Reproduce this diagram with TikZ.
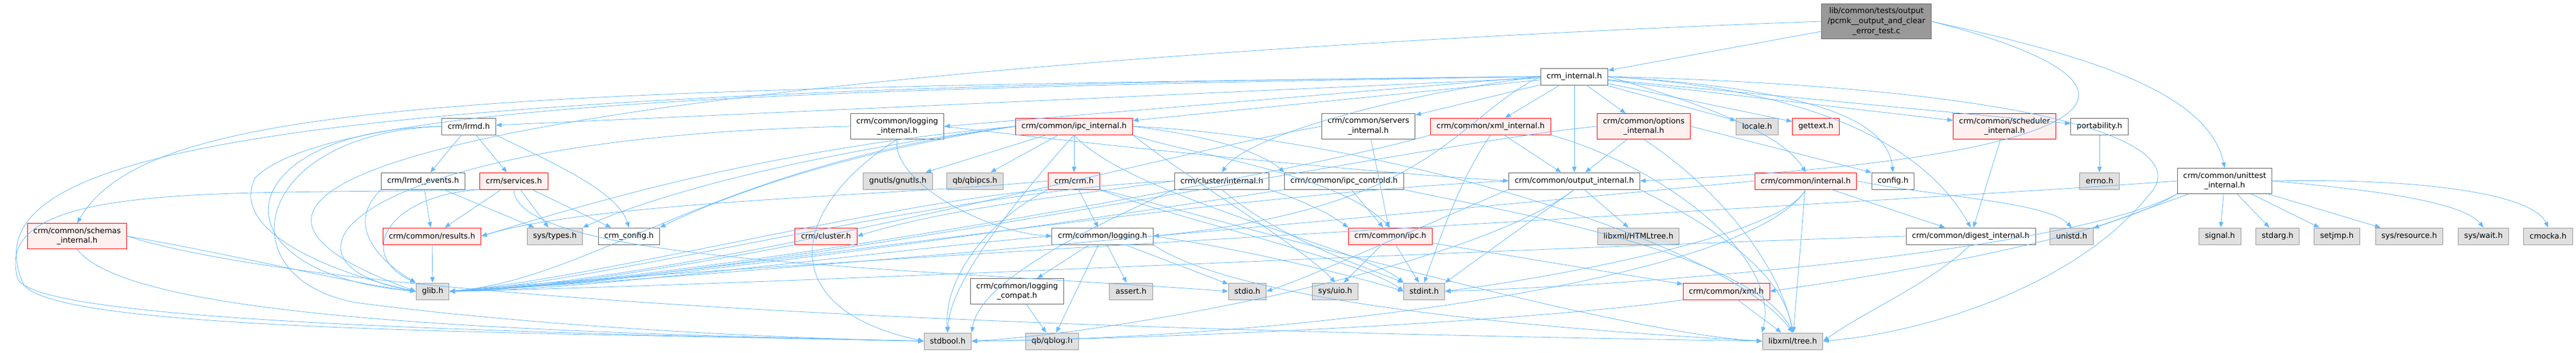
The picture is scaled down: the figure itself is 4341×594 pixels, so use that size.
\documentclass[tikz,border=0pt]{standalone}
\usepackage{fontspec}
\setmainfont{DejaVu Sans}
\usepackage{xcolor}
\usepackage{tikz}
\usetikzlibrary{arrows.meta}

\definecolor{edgeblue}{HTML}{63B8FF}
\definecolor{hdrline}{HTML}{666666}
\definecolor{sysline}{HTML}{999999}
\definecolor{sysfill}{HTML}{E0E0E0}
\definecolor{redfill}{HTML}{FFF0F0}
\definecolor{mainfill}{HTML}{999999}

\begin{document}
\begin{tikzpicture}[x=0.75pt, y=0.75pt]
\tikzstyle{box} = [rectangle, minimum height=21pt, inner xsep=7.5pt, inner ysep=5pt, text centered, align=center, font=\fontsize{9.7}{12.5}\selectfont, line width=0.75pt]
\tikzstyle{hdr} = [box, draw=hdrline, fill=white]
\tikzstyle{redhdr} = [box, draw=red, fill=redfill]
\tikzstyle{syshdr} = [box, draw=sysline, fill=sysfill]
\tikzstyle{mainfile} = [box, draw=hdrline, fill=mainfill]
\tikzstyle{arrow} = [draw=edgeblue, line width=0.6pt, -{Triangle[length=7pt,width=5.5pt]}]

\useasboundingbox (0,0) rectangle (4341,-594);

% Nodes
\node (test) [mainfile] at (3162,-36) {lib/common/tests/output\\/pcmk\_\_output\_and\_clear\\\_error\_test.c};
\node (crminternal) [hdr] at (2653,-129) {crm\_internal.h};

\node (lrmd) [hdr] at (790,-213) {crm/lrmd.h};
\node (logint) [hdr] at (1512,-213) {crm/common/logging\\\_internal.h};
\node (ipcint) [redhdr] at (1810,-213) {crm/common/ipc\_internal.h};
\node (servers) [hdr] at (2306,-213) {crm/common/servers\\\_internal.h};
\node (xmlint) [redhdr] at (2512,-213) {crm/common/xml\_internal.h};
\node (options) [redhdr] at (2770,-213) {crm/common/options\\\_internal.h};
\node (locale) [syshdr] at (2961,-213) {locale.h};
\node (gettext) [redhdr] at (3060,-213) {gettext.h};
\node (sched) [redhdr] at (3378,-213) {crm/common/scheduler\\\_internal.h};
\node (portab) [hdr] at (3538,-213) {portability.h};

\node (lrmdev) [hdr] at (713,-305) {crm/lrmd\_events.h};
\node (services) [redhdr] at (866,-305) {crm/services.h};
\node (gnutls) [syshdr] at (1513,-305) {gnutls/gnutls.h};
\node (qbipcs) [syshdr] at (1643,-305) {qb/qbipcs.h};
\node (crm) [redhdr] at (1810,-305) {crm/crm.h};
\node (clusterint) [hdr] at (2059,-305) {crm/cluster/internal.h};
\node (ipcctl) [hdr] at (2265,-305) {crm/common/ipc\_controld.h};
\node (outint) [hdr] at (2653,-305) {crm/common/output\_internal.h};
\node (internal) [redhdr] at (3043,-305) {crm/common/internal.h};
\node (config) [hdr] at (3190,-305) {config.h};
\node (errno) [syshdr] at (3538,-305) {errno.h};
\node (unittest) [hdr] at (3749,-305) {crm/common/unittest\\\_internal.h};

\node (schemas) [redhdr] at (130,-398) {crm/common/schemas\\\_internal.h};
\node (results) [redhdr] at (728,-398) {crm/common/results.h};
\node (systypes) [syshdr] at (935,-398) {sys/types.h};
\node (crmconfig) [hdr] at (1060,-398) {crm\_config.h};
\node (cluster) [redhdr] at (1392,-398) {crm/cluster.h};
\node (logging) [hdr] at (1858,-398) {crm/common/logging.h};
\node (ipc) [redhdr] at (2343,-398) {crm/common/ipc.h};
\node (htmltree) [syshdr] at (2761,-398) {libxml/HTMLtree.h};
\node (digest) [hdr] at (3321,-398) {crm/common/digest\_internal.h};
\node (unistd) [syshdr] at (3491,-398) {unistd.h};
\node (signal) [syshdr] at (3741,-398) {signal.h};
\node (stdarg) [syshdr] at (3838,-398) {stdarg.h};
\node (setjmp) [syshdr] at (3938,-398) {setjmp.h};
\node (sysres) [syshdr] at (4060,-398) {sys/resource.h};
\node (syswait) [syshdr] at (4185,-398) {sys/wait.h};
\node (cmocka) [syshdr] at (4294,-398) {cmocka.h};

\node (glib) [syshdr] at (729,-491) {glib.h};
\node (compat) [hdr] at (1714,-491) {crm/common/logging\\\_compat.h};
\node (assert) [syshdr] at (1906,-491) {assert.h};
\node (stdio) [syshdr] at (2102,-491) {stdio.h};
\node (sysuio) [syshdr] at (2250,-491) {sys/uio.h};
\node (stdint) [syshdr] at (2400,-491) {stdint.h};
\node (xml) [redhdr] at (2909,-491) {crm/common/xml.h};

\node (stdbool) [syshdr] at (1597,-575) {stdbool.h};
\node (qblog) [syshdr] at (1773,-575) {qb/qblog.h};
\node (tree) [syshdr] at (3021,-575) {libxml/tree.h};

% Arrows from the test file
\draw [arrow] (test) -- (crminternal);
\draw [arrow] (test.west) .. controls (2124,-70) and (-100,-200) .. (glib.west);
\draw [arrow] (test.east) .. controls (3700,-150) and (3550,-268) .. (outint.east);
\draw [arrow] (test.east) .. controls (3500,-90) and (3720,-150) .. (unittest.north);

% Arrows from crm_internal.h
\draw [arrow] (crminternal) -- (lrmd);
\draw [arrow] (crminternal.west) .. controls (800,-150) and (250,-170) .. (schemas.north);
\draw [arrow] (crminternal.west) .. controls (400,-150) and (-60,-260) .. (40,-480) .. controls (100,-560) and (900,-560) .. (stdbool.west);
\draw [arrow] (crminternal.west) .. controls (1300,-150) and (550,-175) .. (430,-300) .. controls (380,-400) and (600,-470) .. (glib.west);
\draw [arrow] (crminternal.west) -- (logint.east);
\draw [arrow] (crminternal) -- (ipcint);
\draw [arrow] (crminternal) -- (servers);
\draw [arrow] (crminternal) -- (xmlint);
\draw [arrow] (crminternal) -- (options);
\draw [arrow] (crminternal) -- (outint);
\draw [arrow] (crminternal) -- (locale);
\draw [arrow] (crminternal) -- (gettext);
\draw [arrow] (crminternal) -- (sched);
\draw [arrow] (crminternal) -- (portab);
\draw [arrow] (crminternal.east) .. controls (3050,-150) and (3180,-200) .. (config.north);
\draw [arrow] (crminternal.east) .. controls (2850,-170) and (3000,-220) .. (internal.north);
\draw [arrow] (crminternal.east) .. controls (3050,-150) and (3240,-240) .. (digest.north);
\draw [arrow] (crminternal.east) .. controls (3500,-150) and (3700,-250) .. (3620,-330) .. controls (3500,-480) and (3250,-560) .. (tree.east);
\draw [arrow] (crminternal.west) .. controls (2350,-160) and (2100,-230) .. (clusterint.north);
\draw [arrow] (crminternal.west) .. controls (2450,-200) and (2420,-350) .. (logging.east);

% Arrows from crm/lrmd.h and its children
\draw [arrow] (lrmd) -- (lrmdev);
\draw [arrow] (lrmd) -- (services);
\draw [arrow] (lrmd.west) .. controls (380,-220) and (350,-460) .. (glib.west);
\draw [arrow] (lrmd.west) .. controls (420,-225) and (380,-470) .. (600,-510) .. controls (900,-550) and (1300,-570) .. (stdbool.west);
\draw [arrow] (lrmd.south east) .. controls (920,-270) and (1040,-320) .. (crmconfig.north);
\draw [arrow] (lrmdev) -- (results);
\draw [arrow] (lrmdev) -- (systypes);
\draw [arrow] (lrmdev.south west) .. controls (580,-380) and (640,-440) .. (glib.north west);
\draw [arrow] (services) -- (results);
\draw [arrow] (services) -- (systypes);
\draw [arrow] (services) -- (crmconfig);
\draw [arrow] (services.south west) .. controls (650,-330) and (600,-430) .. (glib.north west);
\draw [arrow] (services.south west) .. controls (400,-330) and (-20,-300) .. (30,-470) .. controls (60,-540) and (800,-560) .. (stdbool.west);
\draw [arrow] (services.south) .. controls (870,-440) and (1500,-450) .. (stdio.west);
\draw [arrow] (results) -- (glib);

% Arrows from crm/common/schemas_internal.h
\draw [arrow] (schemas.east) .. controls (400,-430) and (600,-480) .. (glib.west);
\draw [arrow] (schemas.south) .. controls (220,-540) and (900,-560) .. (stdbool.west);
\draw [arrow] (schemas.east) .. controls (600,-520) and (2000,-560) .. (tree.west);

% Arrows from crm/common/logging_internal.h
\draw [arrow] (logint.west) .. controls (600,-230) and (420,-440) .. (glib.west);
\draw [arrow] (logint.east) .. controls (1900,-250) and (2300,-290) .. (outint.west);
\draw [arrow] (logint.south) .. controls (1500,-300) and (1650,-390) .. (logging.west);
\draw [arrow] (logint.south) .. controls (1330,-350) and (1300,-520) .. (stdbool.west);

% Arrows from crm/common/ipc_internal.h
\draw [arrow] (ipcint) -- (gnutls);
\draw [arrow] (ipcint) -- (qbipcs);
\draw [arrow] (ipcint) -- (crm);
\draw [arrow] (ipcint.west) .. controls (1200,-280) and (1000,-470) .. (glib.east);
\draw [arrow] (ipcint.west) .. controls (1300,-250) and (1000,-340) .. (results.east);
\draw [arrow] (ipcint.west) .. controls (1350,-260) and (1100,-330) .. (systypes.north east);
\draw [arrow] (ipcint.west) .. controls (1400,-260) and (1200,-340) .. (crmconfig.north east);
\draw [arrow] (ipcint.south east) .. controls (2000,-260) and (2250,-290) .. (ipc.north);
\draw [arrow] (ipcint.east) .. controls (2050,-230) and (2130,-260) .. (ipcctl.north west);
\draw [arrow] (ipcint.south) .. controls (1900,-330) and (2300,-420) .. (stdint.north west);
\draw [arrow] (ipcint.south) .. controls (1700,-350) and (1600,-480) .. (stdbool.north);
\draw [arrow] (ipcint.east) .. controls (2300,-230) and (2900,-400) .. (tree.north);
\draw [arrow] (ipcint.south east) .. controls (2000,-300) and (2200,-420) .. (sysuio.north);

% Arrows from crm/crm.h
\draw [arrow] (crm) -- (logging);
\draw [arrow] (crm.south west) .. controls (1500,-340) and (1000,-470) .. (glib.east);
\draw [arrow] (crm.south west) .. controls (1650,-380) and (1590,-480) .. (stdbool.north);
\draw [arrow] (crm.south east) .. controls (1950,-360) and (2300,-440) .. (stdint.west);
\draw [arrow] (crm.south east) .. controls (1950,-340) and (2700,-560) .. (tree.west);
\draw [arrow] (crm.west) .. controls (1500,-330) and (1000,-340) .. (results.east);

% Arrows from the cluster headers
\draw [arrow] (cluster.south west) .. controls (1200,-440) and (900,-490) .. (glib.east);
\draw [arrow] (clusterint.west) .. controls (1800,-330) and (1600,-350) .. (cluster.east);
\draw [arrow] (clusterint.west) .. controls (1600,-320) and (1000,-480) .. (glib.east);
\draw [arrow] (clusterint.south) .. controls (2150,-400) and (2300,-450) .. (stdint.north west);
\draw [arrow] (clusterint.south west) .. controls (1800,-400) and (1650,-480) .. (stdbool.north east);
\draw [arrow] (clusterint.south east) .. controls (2200,-340) and (2240,-360) .. (ipc.north west);

% Arrows from crm/common/ipc_controld.h and crm/common/ipc.h
\draw [arrow] (ipcctl) -- (ipc);
\draw [arrow] (ipcctl.south east) .. controls (2500,-350) and (2950,-420) .. (tree.north);
\draw [arrow] (ipcctl.south west) .. controls (1900,-360) and (1100,-480) .. (glib.east);
\draw [arrow] (ipc) -- (sysuio);
\draw [arrow] (ipc) -- (stdint);
\draw [arrow] (ipc) -- (xml);
\draw [arrow] (servers) -- (ipc);
\draw [arrow] (servers.west) .. controls (2000,-250) and (1200,-470) .. (glib.east);

% Arrows from crm/common/logging.h
\draw [arrow] (logging) -- (compat);
\draw [arrow] (logging) -- (assert);
\draw [arrow] (logging) -- (qblog);
\draw [arrow] (logging) -- (stdio);
\draw [arrow] (logging.west) .. controls (1500,-420) and (1000,-490) .. (glib.east);
\draw [arrow] (logging.south east) .. controls (2100,-520) and (2700,-560) .. (tree.west);
\draw [arrow] (logging.east) .. controls (2100,-420) and (2300,-470) .. (stdint.west);
\draw [arrow] (compat) -- (qblog);

% Arrows from crm/common/output_internal.h
\draw [arrow] (outint) -- (htmltree);
\draw [arrow] (outint.south west) .. controls (2400,-380) and (2200,-470) .. (stdio.east);
\draw [arrow] (outint.south) -- (stdint.north east);
\draw [arrow] (outint.south east) .. controls (2800,-340) and (3000,-430) .. (tree.north);
\draw [arrow] (outint.west) .. controls (2000,-330) and (1100,-480) .. (glib.east);
\draw [arrow] (outint.south) .. controls (2480,-450) and (1900,-560) .. (stdbool.east);

% Arrows from crm/common/xml_internal.h and options_internal.h
\draw [arrow] (xmlint) -- (outint);
\draw [arrow] (xmlint.south) .. controls (2460,-300) and (2420,-420) .. (stdint.north);
\draw [arrow] (xmlint.south east) .. controls (2800,-280) and (3000,-430) .. (tree.north west);
\draw [arrow] (xmlint.south west) .. controls (2200,-290) and (1200,-470) .. (glib.east);
\draw [arrow] (options) -- (outint);
\draw [arrow] (options.west) .. controls (2400,-240) and (1300,-470) .. (glib.east);
\draw [arrow] (options.east) -- (config.north west);
\draw [arrow] (options.south) .. controls (2900,-320) and (3000,-450) .. (tree.north);

% Arrows from crm/common/internal.h
\draw [arrow] (internal) -- (tree);
\draw [arrow] (internal) -- (digest);
\draw [arrow] (internal.east) .. controls (3250,-330) and (3450,-340) .. (unistd.north);
\draw [arrow] (internal.south) .. controls (3000,-400) and (2600,-470) .. (stdint.east);
\draw [arrow] (internal.west) .. controls (2700,-330) and (1200,-470) .. (glib.east);
\draw [arrow] (internal.south) .. controls (2950,-470) and (2200,-570) .. (stdbool.east);

% Arrows from the remaining headers
\draw [arrow] (xml) -- (tree);
\draw [arrow] (xml.south west) .. controls (2600,-540) and (2000,-570) .. (stdbool.east);
\draw [arrow] (sched) -- (digest);
\draw [arrow] (digest.south) .. controls (3250,-480) and (3150,-520) .. (tree.east);
\draw [arrow] (digest.west) .. controls (2500,-420) and (1300,-480) .. (glib.east);
\draw [arrow] (portab) -- (errno);

% Arrows from crm/common/unittest_internal.h
\draw [arrow] (unittest) -- (unistd);
\draw [arrow] (unittest) -- (signal);
\draw [arrow] (unittest) -- (stdarg);
\draw [arrow] (unittest) -- (setjmp);
\draw [arrow] (unittest) -- (sysres);
\draw [arrow] (unittest.east) .. controls (4000,-320) and (4150,-340) .. (syswait.north);
\draw [arrow] (unittest.east) .. controls (4100,-300) and (4270,-330) .. (cmocka.north);
\draw [arrow] (unittest.west) .. controls (3200,-340) and (1300,-440) .. (glib.east);
\draw [arrow] (unittest.south west) .. controls (3500,-420) and (2800,-480) .. (stdint.east);
\draw [arrow] (unittest.south west) .. controls (3550,-400) and (3200,-460) .. (xml.east);

\end{tikzpicture}
\end{document}
